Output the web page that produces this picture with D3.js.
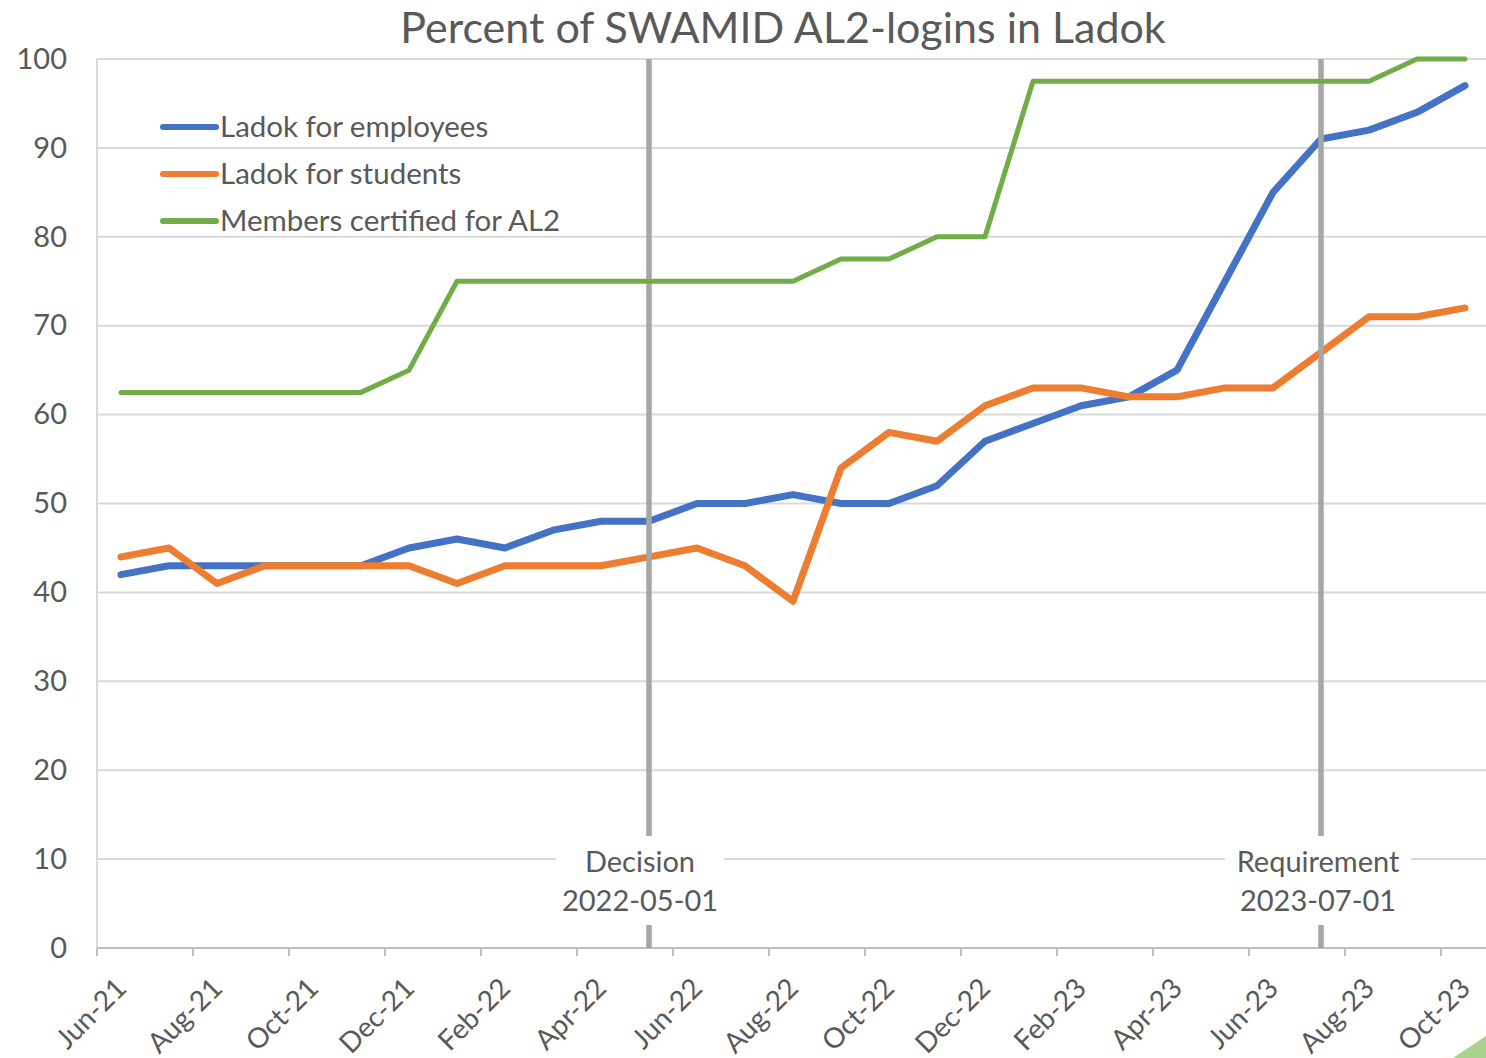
<!DOCTYPE html>
<html>
<head>
<meta charset="utf-8">
<script src="https://cdn.jsdelivr.net/npm/d3@7"></script>
<style>
  html, body { margin: 0; padding: 0; background: #fff; }
  svg { display: block; }
  text { font-family: Lato, "Open Sans", sans-serif; fill: #595959; }
</style>
</head>
<body>
<svg id="chart" width="1486" height="1058"></svg>
<script>
// ---- data ----
const months = ["Jun-21","Jul-21","Aug-21","Sep-21","Oct-21","Nov-21","Dec-21",
  "Jan-22","Feb-22","Mar-22","Apr-22","May-22","Jun-22","Jul-22","Aug-22","Sep-22","Oct-22","Nov-22","Dec-22",
  "Jan-23","Feb-23","Mar-23","Apr-23","May-23","Jun-23","Jul-23","Aug-23","Sep-23","Oct-23"];
const tickLabels = ["Jun-21","Aug-21","Oct-21","Dec-21","Feb-22","Apr-22","Jun-22","Aug-22",
  "Oct-22","Dec-22","Feb-23","Apr-23","Jun-23","Aug-23","Oct-23"];
const yTicks = [0,10,20,30,40,50,60,70,80,90,100];

const employees = [42,43,43,43,43,43,45,46,45,47,48,48,50,50,51,50,50,52,57,59,61,62,65,75,85,91,92,94,97];
const students  = [44,45,41,43,43,43,43,41,43,43,43,44,45,43,39,54,58,57,61,63,63,62,62,63,63,67,71,71,72];
const certified = [62.5,62.5,62.5,62.5,62.5,62.5,65,75,75,75,75,75,75,75,75,77.5,77.5,80,80,
  97.5,97.5,97.5,97.5,97.5,97.5,97.5,97.5,100,100];

const seriesNames = ["Ladok for employees","Ladok for students","Members certified for AL2"];
const seriesColors = ["#4472C4","#ED7D31","#70AD47"];

const markerMonths = ["May-22","Jul-23"];
const markerLabels = [["Decision","2022-05-01"],["Requirement","2023-07-01"]];

const title = "Percent of SWAMID AL2-logins in Ladok";

// ---- drawing ----
const svg = d3.select("#chart");
const x = d3.scaleBand().domain(months).range([97, 1489]).padding(0);
const y = d3.scaleLinear().domain([0, 100]).range([948, 59]);
const cx = m => x(m) + x.bandwidth() / 2;

// title
svg.append("text").attr("x", 783).attr("y", 43).attr("text-anchor", "middle")
  .style("font-size", "43px").text(title);

// gridlines
svg.append("g").selectAll("line").data(yTicks.filter(d => d > 0)).join("line")
  .attr("x1", 97).attr("x2", 1486).attr("y1", d => y(d)).attr("y2", d => y(d))
  .attr("stroke", "#d9d9d9").attr("stroke-width", 2);
// left axis line
svg.append("line").attr("x1", 97).attr("x2", 97).attr("y1", y(100)).attr("y2", y(0))
  .attr("stroke", "#d9d9d9").attr("stroke-width", 2);

// y axis labels
const gy = svg.append("g").attr("transform", "translate(97,0)")
  .call(d3.axisLeft(y).tickValues(yTicks).tickSize(0).tickPadding(30));
gy.select(".domain").remove();
gy.selectAll("text").style("font-size", "29px").attr("fill", "#595959").attr("font-family", null);

// x axis
svg.append("line").attr("x1", 97).attr("x2", 1486).attr("y1", y(0)).attr("y2", y(0))
  .attr("stroke", "#bfbfbf").attr("stroke-width", 2);
svg.append("g").selectAll("line").data(tickLabels).join("line")
  .attr("x1", d => x(d)).attr("x2", d => x(d)).attr("y1", y(0)).attr("y2", y(0) + 8)
  .attr("stroke", "#bfbfbf").attr("stroke-width", 2);
const gx = svg.append("g").attr("transform", `translate(0,${y(0)})`)
  .call(d3.axisBottom(x).tickValues(tickLabels).tickSize(0));
gx.select(".domain").remove();
gx.selectAll("text").attr("y", 0).attr("dy", 0).attr("x", 0)
  .attr("text-anchor", "end").attr("transform", "translate(7,42) rotate(-45)")
  .style("font-size", "28px").attr("fill", "#595959").attr("font-family", null);

const line = d3.line().x((d, i) => cx(months[i])).y(d => y(d));
const data = [employees, students, certified];

// blue & orange lines (below vertical markers)
[0, 1].forEach(i => {
  svg.append("path").datum(data[i]).attr("d", line).attr("fill", "none")
    .attr("stroke", seriesColors[i]).attr("stroke-width", 7)
    .attr("stroke-linejoin", "round").attr("stroke-linecap", "round");
});

// vertical marker lines + labels
markerMonths.forEach((m, k) => {
  const xm = cx(m);
  svg.append("line").attr("x1", xm).attr("x2", xm).attr("y1", y(100)).attr("y2", y(0))
    .attr("stroke", "#a6a6a6").attr("stroke-width", 5.5);
  const bx = xm - (k === 0 ? 9 : 3);
  const bw = k === 0 ? 168 : 186;
  svg.append("rect").attr("x", bx - bw / 2).attr("y", 836).attr("width", bw).attr("height", 89)
    .attr("fill", "#fff");
  svg.append("text").attr("x", bx).attr("y", 872).attr("text-anchor", "middle")
    .style("font-size", "29px").text(markerLabels[k][0]);
  svg.append("text").attr("x", bx).attr("y", 911).attr("text-anchor", "middle")
    .style("font-size", "29px").text(markerLabels[k][1]);
});

// green line on top
svg.append("path").datum(certified).attr("d", line).attr("fill", "none")
  .attr("stroke", seriesColors[2]).attr("stroke-width", 5)
  .attr("stroke-linejoin", "round").attr("stroke-linecap", "round");

// legend
const lg = svg.append("g");
seriesNames.forEach((name, i) => {
  const ly = 127 + i * 47;
  lg.append("line").attr("x1", 163).attr("x2", 216).attr("y1", ly).attr("y2", ly)
    .attr("stroke", seriesColors[i]).attr("stroke-width", 6).attr("stroke-linecap", "round");
  lg.append("text").attr("x", 220).attr("y", ly).attr("dy", "0.35em")
    .style("font-size", "29.5px").text(name);
});

// corner decoration
svg.append("polygon").attr("points", "1453,1058 1486,1036 1486,1058").attr("fill", "#a9d18e");
</script>
</body>
</html>
